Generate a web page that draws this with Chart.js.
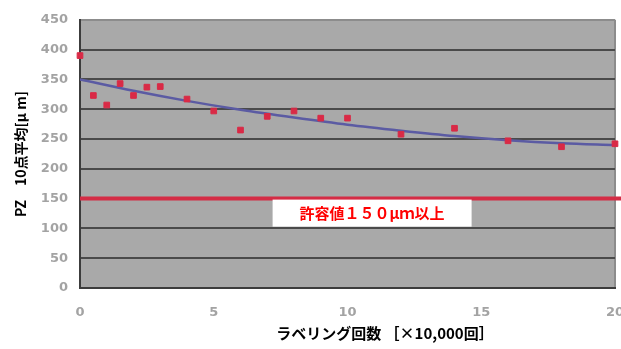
<!DOCTYPE html>
<html>
<head>
    <meta charset="utf-8">
    <title>PZ 10点平均</title>
    <style>
        body { margin: 0; padding: 0; background: #ffffff; }
        #wrap { position: relative; width: 621px; height: 349px; }
    </style>
</head>
<body>
    <div id="wrap"><canvas id="chart" width="621" height="349"></canvas></div>
    <script src="https://cdn.jsdelivr.net/npm/chart.js"></script>
    <script>
        // measured points (x: ×10,000 labelings, y: PZ 10-point average µm)
        const cycles = [0, 0.5, 1, 1.5, 2, 2.5, 3, 4, 5, 6, 7, 8, 9, 10, 12, 14, 16, 18, 20];
        const pzValues = [390, 323, 307, 343, 323, 337, 338, 317, 297, 265, 288, 297, 285, 285, 258, 268, 247, 237, 242];

        // trend curve
        const trendX = [0, 2, 4, 6, 8, 10, 12, 14, 16, 18, 20];
        const trendY = [350, 331, 314, 299, 286, 274, 264, 255, 248, 243, 240];

        const limitValue = 150;
        const limitLabel = '許容値１５０μｍ以上';
        const yTicks = [0, 50, 100, 150, 200, 250, 300, 350, 400, 450];
        const xTicks = [0, 5, 10, 15, 20];
        const xTitle = 'ラベリング回数 ［×10,000回］';
        const yTitle = 'PZ　10点平均[μ m]';

        const fontFam = '"Noto Sans CJK JP", "Liberation Sans", sans-serif';
        const tickFam = '"DejaVu Sans", sans-serif';

        const plotBg = {
            id: 'plotBg',
            beforeDraw(chart) {
                const { ctx, chartArea: a } = chart;
                ctx.save();
                ctx.fillStyle = '#a9a9a9';
                ctx.fillRect(a.left, a.top, a.right - a.left, a.bottom - a.top);
                ctx.strokeStyle = '#8c8c8c';
                ctx.lineWidth = 2;
                ctx.beginPath();
                ctx.moveTo(a.right, a.top);
                ctx.lineTo(a.right, a.bottom);
                ctx.stroke();
                ctx.restore();
            },
            afterDatasetsDraw(chart) {
                const { ctx, chartArea: a, scales } = chart;
                const y = scales.y.getPixelForValue(limitValue);
                ctx.save();
                // limit line
                ctx.strokeStyle = '#d42c45';
                ctx.lineWidth = 4;
                ctx.beginPath();
                ctx.moveTo(a.left, y);
                ctx.lineTo(chart.width, y);
                ctx.stroke();
                // label box
                const bx = a.left + (a.right - a.left) * 0.36;
                const bw = 199;
                ctx.fillStyle = '#ffffff';
                ctx.fillRect(bx, y + 1, bw, 27);
                ctx.fillStyle = '#ff0000';
                ctx.font = 'bold 15px ' + fontFam;
                ctx.textAlign = 'center';
                ctx.textBaseline = 'middle';
                ctx.fillText(limitLabel, bx + bw / 2, y + 15);
                // x axis title
                ctx.fillStyle = '#000000';
                ctx.font = 'bold 15px ' + fontFam;
                ctx.fillText(xTitle, a.left + (a.right - a.left) * 0.57, 333);
                ctx.restore();
            }
        };

        new Chart(document.getElementById('chart'), {
            type: 'scatter',
            data: {
                datasets: [
                    {
                        label: 'PZ',
                        data: cycles.map((c, i) => ({ x: c, y: pzValues[i] })),
                        pointStyle: 'rect',
                        pointRadius: 4,
                        backgroundColor: '#d92a46',
                        borderColor: '#d92a46',
                        clip: 8,
                        order: 1
                    },
                    {
                        label: 'trend',
                        type: 'line',
                        data: trendX.map((c, i) => ({ x: c, y: trendY[i] })),
                        borderColor: '#5b5ba3',
                        borderWidth: 2.5,
                        pointRadius: 0,
                        cubicInterpolationMode: 'monotone',
                        fill: false,
                        order: 2
                    }
                ]
            },
            options: {
                responsive: false,
                animation: false,
                layout: { padding: { top: 18, right: 6, left: 0, bottom: 0 } },
                plugins: {
                    legend: { display: false },
                    tooltip: { enabled: false }
                },
                scales: {
                    x: {
                        type: 'linear',
                        min: 0,
                        max: 20,
                        afterFit(scale) {
                            scale.height = 61;
                            scale.paddingLeft = 0;
                            scale.paddingRight = 0;
                        },
                        afterBuildTicks(scale) { scale.ticks = xTicks.map(v => ({ value: v })); },
                        grid: { display: false },
                        border: { display: true, color: '#3c3c3c', width: 2 },
                        ticks: {
                            color: '#a3a3a3',
                            padding: 9,
                            maxRotation: 0,
                            font: { family: tickFam, size: 13, weight: 'bold' }
                        }
                    },
                    y: {
                        min: 0,
                        max: 450,
                        afterFit(scale) { scale.width = 80; },
                        afterBuildTicks(scale) { scale.ticks = yTicks.map(v => ({ value: v })); },
                        grid: {
                            color: ctx => ctx.tick && ctx.tick.value === 450 ? '#8c8c8c' : '#4a4a4a',
                            lineWidth: 2,
                            drawTicks: false
                        },
                        border: { display: true, color: '#3c3c3c', width: 2 },
                        ticks: {
                            color: '#a3a3a3',
                            padding: 12,
                            font: { family: tickFam, size: 13, weight: 'bold' }
                        },
                        title: {
                            display: true,
                            text: yTitle,
                            color: '#000000',
                            padding: { top: 12, bottom: 12 },
                            font: { family: fontFam, size: 14, weight: 'bold' }
                        }
                    }
                }
            },
            plugins: [plotBg]
        });
    </script>
</body>
</html>
